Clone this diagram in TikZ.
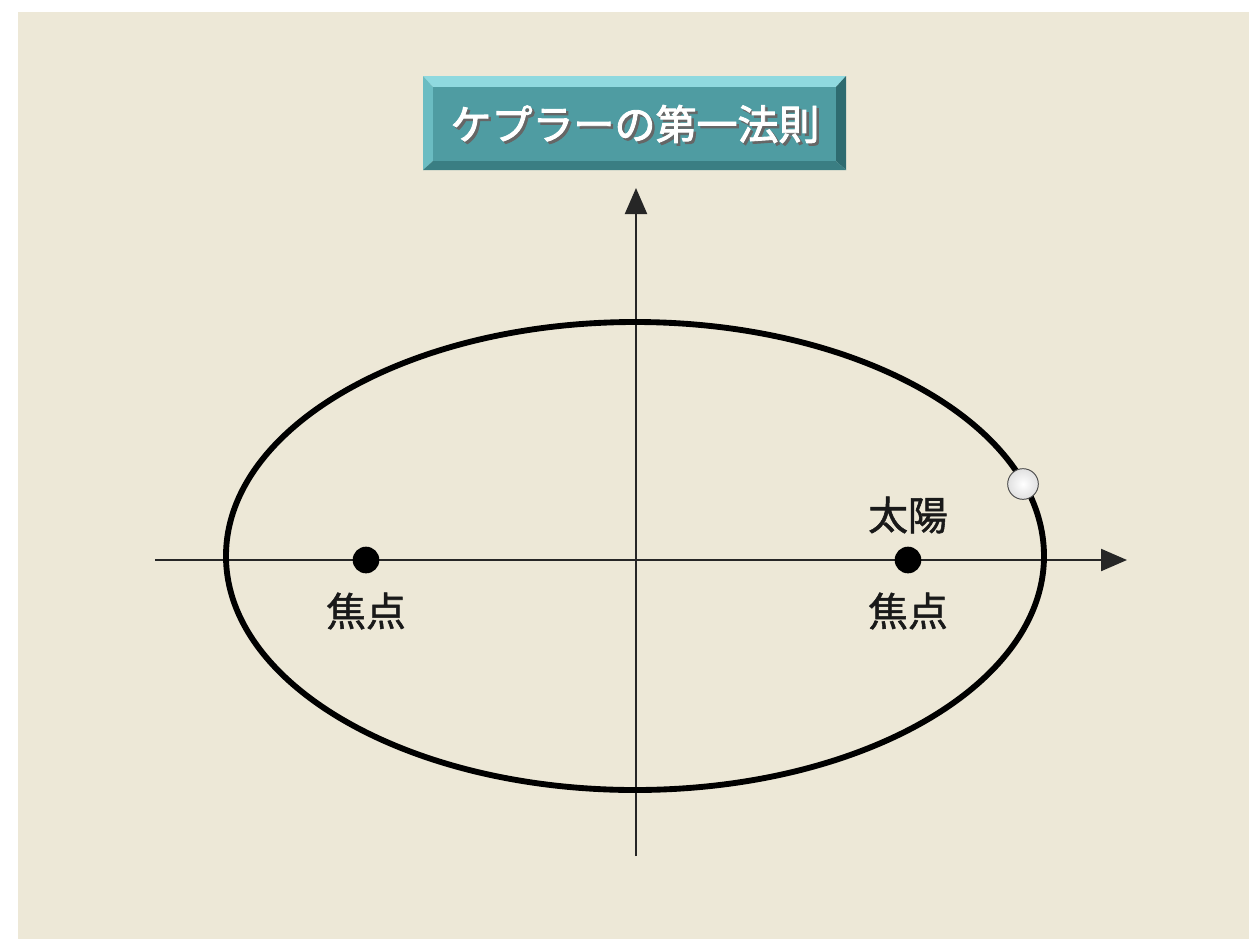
\documentclass[tikz,border=0pt]{standalone}
\usepackage{fontspec}
\newfontfamily\jp[FakeBold=1.3]{Noto Sans CJK JP}
\newfontfamily\jpt[FakeBold=2.2]{Noto Sans CJK JP}
\usetikzlibrary{arrows.meta}
\definecolor{paper}{HTML}{EDE8D7}
\definecolor{tealface}{HTML}{4F9CA2}
\definecolor{teallight}{HTML}{8FD9DF}
\definecolor{tealmid}{HTML}{6BBCC2}
\definecolor{tealdark}{HTML}{2E6B70}
\definecolor{tealdarker}{HTML}{3A7E83}
\tikzset{
  axis/.style={line width=1.8pt, draw=black!85, -{Triangle[length=0.78cm, width=0.66cm]}},
  orbit/.style={line width=5pt, draw=black},
  focusdot/.style={circle, fill=black, minimum size=0.8cm, inner sep=0pt},
  planet/.style={circle, inner color=white, outer color=black!12, draw=black!70, line width=0.8pt, minimum size=0.92cm, inner sep=0pt},
  lbl/.style={font=\jp\fontsize{34}{36}\selectfont, text=black!90, inner sep=0pt},
  titletext/.style={font=\jpt\fontsize{35}{37}\selectfont, inner sep=0pt}
}
\begin{document}
\begin{tikzpicture}[x=0.03cm, y=-0.03cm]
\useasboundingbox (0,0) rectangle (1249,939);
\fill[white] (0,0) rectangle (1249,939);
\fill[paper] (18,12) rectangle (1249,939);

% title box with bevel
\coordinate (tbA) at (423,76);
\coordinate (tbB) at (846,76);
\coordinate (tbC) at (846,170);
\coordinate (tbD) at (423,170);
\coordinate (tia) at (433,87);
\coordinate (tib) at (836,87);
\coordinate (tic) at (836,161);
\coordinate (tid) at (433,161);
\fill[teallight] (tbA) -- (tbB) -- (tib) -- (tia) -- cycle;
\fill[tealmid] (tbA) -- (tia) -- (tid) -- (tbD) -- cycle;
\fill[tealdark] (tbB) -- (tbC) -- (tic) -- (tib) -- cycle;
\fill[tealdarker] (tbD) -- (tid) -- (tic) -- (tbC) -- cycle;
\fill[tealface] (tia) rectangle (tic);
\node[titletext, text=black!60] (titleshadow) at (637.5,126.5) {ケプラーの第一法則};
\node[titletext, text=white] (title) at (635,124) {ケプラーの第一法則};

% axes
\coordinate (xstart) at (155,560);
\coordinate (xend) at (1127,560);
\coordinate (ystart) at (636,856);
\coordinate (yend) at (636,188);
\draw[axis] (xstart) -- (xend);
\draw[axis] (ystart) -- (yend);

% orbit
\coordinate (center) at (635,556);
\draw[orbit] (center) ellipse [x radius=409, y radius=234];

% foci
\node[focusdot] (f1) at (366,560) {};
\node[focusdot] (f2) at (908,560) {};
\node[lbl] (l1) at (366,611) {焦点};
\node[lbl] (l2) at (908,611) {焦点};
\node[lbl] (sun) at (908,515) {太陽};

% planet
\node[planet] (p) at (1023,484) {};
\end{tikzpicture}
\end{document}
